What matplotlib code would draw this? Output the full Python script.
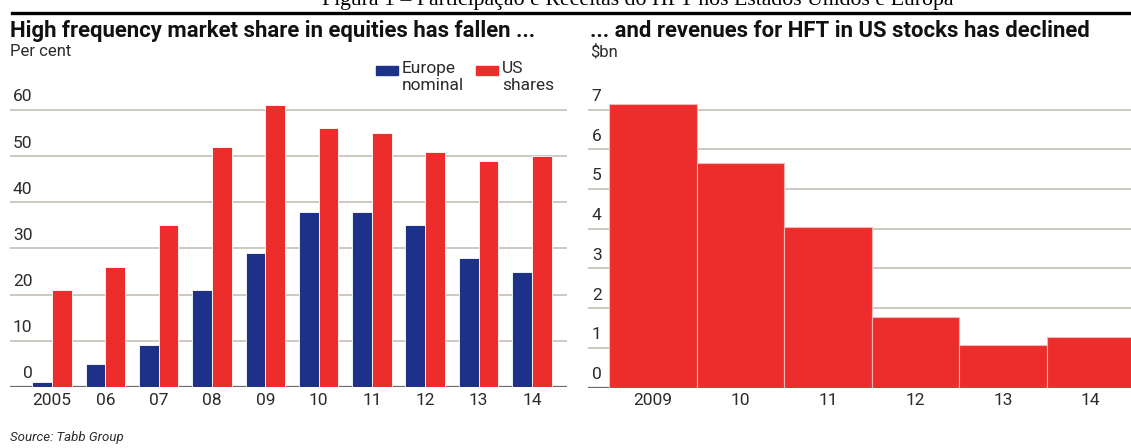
import matplotlib
matplotlib.use("Agg")
import matplotlib.pyplot as plt
from matplotlib.patches import Rectangle
from matplotlib.lines import Line2D
import numpy as np

# market share of high frequency trading, per cent
share_years = ["2005", "06", "07", "08", "09", "10", "11", "12", "13", "14"]
europe_share = [1, 5, 9, 21, 29, 38, 38, 35, 28, 25]
us_share = [21, 26, 35, 52, 61, 56, 55, 51, 49, 50]
share_ticks = [0, 10, 20, 30, 40, 50, 60]

# HFT revenues in US stocks, $bn
rev_years = ["2009", "10", "11", "12", "13", "14"]
us_revenue = [7.15, 5.65, 4.05, 1.78, 1.08, 1.28]
rev_ticks = [0, 1, 2, 3, 4, 5, 6, 7]

RED = "#ec2d2c"
BLUE = "#1c3187"
GRID = "#c9c4bb"
BASE = "#6a6a6a"
TEXT = "#2b2b2b"
SANS = ["Roboto", "DejaVu Sans"]

W, H = 1131, 448
fig = plt.figure(figsize=(W / 100, H / 100), dpi=100)
fig.patch.set_facecolor("white")


def px_axes(x0, x1, y_top, y_bottom):
    return fig.add_axes([x0 / W, 1 - y_bottom / H, (x1 - x0) / W, (y_bottom - y_top) / H])


def style(ax):
    for s in ax.spines.values():
        s.set_visible(False)
    ax.set_yticks([])
    ax.tick_params(axis="x", length=0, pad=4, labelsize=12.5, colors=TEXT)
    for lab in ax.get_xticklabels():
        lab.set_family(SANS)


# header caption, cut off by the top edge
fig.text(638 / W, 1 - 5 / H, "Figura 1 \u2013 Participação e Receitas do HFT nos Estados Unidos e Europa",
         ha="center", va="baseline", fontsize=15.7, family="Liberation Serif", color="black")
fig.add_artist(Line2D([12 / W, 1], [1 - 13 / H] * 2, color="black", lw=2.4))

# left panel: market share
ax1 = px_axes(10, 567, 60, 387)
x = np.arange(len(share_years))
bw = 0.37
ax1.set_xlim(-0.79, 9.66)
ax1.set_ylim(0, 327 / 4.617)
for t in share_ticks[1:]:
    ax1.axhline(t, color=GRID, lw=1.3, zorder=0)
ax1.axhline(0, color=BASE, lw=1.6, zorder=1)
ax1.bar(x - bw / 2, europe_share, bw, color=BLUE, edgecolor="white", lw=0.6, zorder=2)
ax1.bar(x + bw / 2, us_share, bw, color=RED, edgecolor="white", lw=0.6, zorder=2)
ax1.set_xticks(x, share_years)
style(ax1)
for t in share_ticks:
    ax1.annotate(str(t), xy=(0.04, t), xycoords=("axes fraction", "data"),
                 xytext=(0, 4), textcoords="offset points", ha="right", va="bottom",
                 fontsize=12.5, family=SANS, color=TEXT)

# right panel: revenues
ax2 = px_axes(588, 1131, 60, 387.5)
xr = np.arange(len(rev_years))
ax2.set_xlim(-0.74, 5.46)
ax2.set_ylim(0, 327.5 / 39.7)
for t in rev_ticks[1:]:
    ax2.axhline(t, color=GRID, lw=1.3, zorder=0)
ax2.axhline(0, color=BASE, lw=1.6, zorder=1)
ax2.bar(xr, us_revenue, 1.0, color=RED, edgecolor="#f4b8b6", lw=0.8, zorder=2)
ax2.set_xticks(xr, rev_years)
style(ax2)
for t in rev_ticks:
    ax2.annotate(str(t), xy=(0.025, t), xycoords=("axes fraction", "data"),
                 xytext=(0, 4), textcoords="offset points", ha="right", va="bottom",
                 fontsize=12.5, family=SANS, color=TEXT)

# titles and units
fig.text(10 / W, 1 - 31 / H, "High frequency market share in equities has fallen ...",
         va="center", fontsize=15.9, fontweight="bold", family=SANS, color="#111111")
fig.text(590 / W, 1 - 31 / H, "... and revenues for HFT in US stocks has declined",
         va="center", fontsize=15.9, fontweight="bold", family=SANS, color="#111111")
fig.text(10 / W, 1 - 52 / H, "Per cent", va="center", fontsize=12, family=SANS, color=TEXT)
fig.text(590 / W, 1 - 52 / H, "$bn", va="center", fontsize=12, family=SANS, color=TEXT)

# legend
for x0, col, label in [(376, BLUE, "Europe\nnominal"), (476, RED, "US\nshares")]:
    fig.add_artist(Rectangle((x0 / W, 1 - 75 / H), 22 / W, 9 / H, color=col,
                             transform=fig.transFigure))
    fig.text((x0 + 26) / W, 1 - 61 / H, label, va="top", ha="left", fontsize=12.5,
             family=SANS, color=TEXT, linespacing=1.15)

fig.text(10 / W, 1 - 437 / H, "Source: Tabb Group", va="center", fontsize=9.5,
         style="italic", family=SANS, color=TEXT)

fig.savefig("out.png", dpi=100)
